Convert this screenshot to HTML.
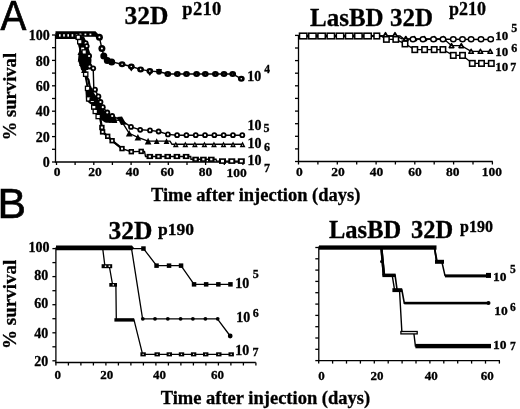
<!DOCTYPE html>
<html><head><meta charset="utf-8"><style>
html,body{margin:0;padding:0;background:#fff;}
body{width:520px;height:409px;overflow:hidden;}
svg{display:block;filter:blur(0.35px);}
text{stroke:#000;stroke-width:0.3px;}
</style></head><body>
<svg width="520" height="409" viewBox="0 0 520 409" stroke="#000" fill="#000" stroke-linecap="butt">
<g stroke="none">
</g>
<g>
<text x="0.0" y="0.0" font-size="43" text-anchor="start" font-family="Liberation Sans" font-weight="normal" transform="translate(0.5,30.4) scale(0.9,1)" style="stroke-width:0.7px">A</text>
<text x="124.6" y="23.6" font-size="25.5" text-anchor="start" font-family="Liberation Serif" font-weight="bold" >32D</text>
<text x="182.3" y="14.8" font-size="18.5" text-anchor="start" font-family="Liberation Serif" font-weight="bold" letter-spacing="0.3">p210</text>
<line x1="55.5" y1="35.0" x2="55.5" y2="162.6" stroke-width="1.3"/>
<line x1="54.9" y1="162.0" x2="244.0" y2="162.0" stroke-width="1.3"/>
<line x1="52.0" y1="35.0" x2="55.5" y2="35.0" stroke-width="1.3"/>
<line x1="52.0" y1="47.7" x2="55.5" y2="47.7" stroke-width="1.3"/>
<line x1="52.0" y1="60.4" x2="55.5" y2="60.4" stroke-width="1.3"/>
<line x1="52.0" y1="73.1" x2="55.5" y2="73.1" stroke-width="1.3"/>
<line x1="52.0" y1="85.8" x2="55.5" y2="85.8" stroke-width="1.3"/>
<line x1="52.0" y1="98.5" x2="55.5" y2="98.5" stroke-width="1.3"/>
<line x1="52.0" y1="111.2" x2="55.5" y2="111.2" stroke-width="1.3"/>
<line x1="52.0" y1="123.9" x2="55.5" y2="123.9" stroke-width="1.3"/>
<line x1="52.0" y1="136.6" x2="55.5" y2="136.6" stroke-width="1.3"/>
<line x1="52.0" y1="149.3" x2="55.5" y2="149.3" stroke-width="1.3"/>
<line x1="52.0" y1="162.0" x2="55.5" y2="162.0" stroke-width="1.3"/>
<line x1="56.5" y1="162.0" x2="56.5" y2="165.0" stroke-width="1.3"/>
<line x1="75.1" y1="162.0" x2="75.1" y2="165.0" stroke-width="1.3"/>
<line x1="93.8" y1="162.0" x2="93.8" y2="165.0" stroke-width="1.3"/>
<line x1="112.4" y1="162.0" x2="112.4" y2="165.0" stroke-width="1.3"/>
<line x1="131.1" y1="162.0" x2="131.1" y2="165.0" stroke-width="1.3"/>
<line x1="149.7" y1="162.0" x2="149.7" y2="165.0" stroke-width="1.3"/>
<line x1="168.3" y1="162.0" x2="168.3" y2="165.0" stroke-width="1.3"/>
<line x1="187.0" y1="162.0" x2="187.0" y2="165.0" stroke-width="1.3"/>
<line x1="205.6" y1="162.0" x2="205.6" y2="165.0" stroke-width="1.3"/>
<line x1="224.3" y1="162.0" x2="224.3" y2="165.0" stroke-width="1.3"/>
<line x1="242.9" y1="162.0" x2="242.9" y2="165.0" stroke-width="1.3"/>
<text x="49.8" y="39.6" font-size="14" text-anchor="end" font-family="Liberation Serif" font-weight="bold" >100</text>
<text x="49.8" y="65.7" font-size="14" text-anchor="end" font-family="Liberation Serif" font-weight="bold" >80</text>
<text x="49.8" y="91.0" font-size="14" text-anchor="end" font-family="Liberation Serif" font-weight="bold" >60</text>
<text x="49.8" y="116.4" font-size="14" text-anchor="end" font-family="Liberation Serif" font-weight="bold" >40</text>
<text x="49.8" y="141.8" font-size="14" text-anchor="end" font-family="Liberation Serif" font-weight="bold" >20</text>
<text x="49.8" y="167.1" font-size="14" text-anchor="end" font-family="Liberation Serif" font-weight="bold" >0</text>
<text x="57.0" y="175.8" font-size="13.5" text-anchor="middle" font-family="Liberation Serif" font-weight="bold" >0</text>
<text x="95.0" y="175.8" font-size="13.5" text-anchor="middle" font-family="Liberation Serif" font-weight="bold" >20</text>
<text x="132.5" y="175.8" font-size="13.5" text-anchor="middle" font-family="Liberation Serif" font-weight="bold" >40</text>
<text x="167.3" y="175.8" font-size="13.5" text-anchor="middle" font-family="Liberation Serif" font-weight="bold" >60</text>
<text x="205.5" y="175.8" font-size="13.5" text-anchor="middle" font-family="Liberation Serif" font-weight="bold" >80</text>
<text x="236.7" y="177.2" font-size="13.5" text-anchor="middle" font-family="Liberation Serif" font-weight="bold" >100</text>
<text x="16.0" y="96.6" font-size="18.6" text-anchor="middle" font-family="Liberation Serif" font-weight="bold" transform="rotate(-90 16 96.6)">% survival</text>
<text x="255.7" y="201.0" font-size="18.5" text-anchor="middle" font-family="Liberation Serif" font-weight="bold" >Time after injection (days)</text>
<text x="247.3" y="80.6" font-size="14" text-anchor="start" font-family="Liberation Serif" font-weight="bold" >10</text>
<text x="264.2" y="73.2" font-size="11.5" text-anchor="start" font-family="Liberation Serif" font-weight="bold" >4</text>
<text x="247.6" y="130.3" font-size="14" text-anchor="start" font-family="Liberation Serif" font-weight="bold" >10</text>
<text x="263.5" y="132.3" font-size="12" text-anchor="start" font-family="Liberation Serif" font-weight="bold" >5</text>
<text x="247.6" y="147.9" font-size="14" text-anchor="start" font-family="Liberation Serif" font-weight="bold" >10</text>
<text x="264.0" y="151.0" font-size="12" text-anchor="start" font-family="Liberation Serif" font-weight="bold" >6</text>
<text x="247.6" y="164.8" font-size="14" text-anchor="start" font-family="Liberation Serif" font-weight="bold" >10</text>
<text x="264.0" y="171.5" font-size="12" text-anchor="start" font-family="Liberation Serif" font-weight="bold" >7</text>
<polyline points="56.5,35.5 76.0,35.5 78.3,37.3 79.8,41.7 82.7,49.1 84.2,52.0 85.9,74.4 87.7,88.5 88.7,98.9 92.3,100.4 93.8,107.0 95.3,111.4 98.2,116.5 100.0,117.0 101.9,127.5 102.6,131.9 107.7,136.3 112.1,140.7 122.0,148.6 131.3,151.7 141.2,151.4 144.5,151.4 145.5,156.5 190.7,156.5 191.0,159.3 216.0,159.3 216.5,161.1 242.5,161.1" fill="none" stroke-width="1.4"/>
<polyline points="56.5,35.5 77.0,35.5 80.0,50.0 80.5,58.6 84.0,70.0 87.0,85.0 90.0,95.0 95.0,103.0 100.0,110.0 105.0,116.0 108.5,119.5 115.0,120.0 120.9,120.2 129.2,133.3 137.9,137.3 148.1,141.1 170.0,141.1 172.0,144.3 242.6,144.3" fill="none" stroke-width="1.4"/>
<polyline points="56.5,35.5 80.0,35.5 85.7,43.2 86.7,46.1 89.1,56.0 89.6,66.5 93.2,68.3 93.8,88.0 95.0,89.7 98.4,96.4 102.8,107.2 107.3,112.5 112.2,116.0 120.9,120.2 131.0,126.9 140.2,129.8 150.0,130.4 158.6,131.5 167.9,134.4 177.1,135.2 241.6,135.2" fill="none" stroke-width="1.4"/>
<polyline points="56.5,35.5 95.0,35.5 99.4,37.3 101.9,48.6 103.8,56.0 107.3,60.4 111.7,61.9 122.1,64.2 131.3,66.5 140.6,69.4 149.8,71.1 159.0,71.7 168.2,74.0 232.7,74.0 241.3,78.8" fill="none" stroke-width="1.4"/>
<polyline points="98.2,116.5 100.0,117.0 101.9,127.5 102.6,131.9 107.7,136.3 112.1,140.7 122.0,148.6" fill="none" stroke-width="2.2"/>
<polygon points="55.5,31.3 95.5,31.3 99,35 97,36.8 55.5,36.8" fill="#000" stroke="none"/>
<rect x="55.5" y="33" width="22" height="6" fill="#000" stroke="none"/>
<rect x="59.0" y="34.2" width="1.6" height="2.4" fill="#fff" stroke="none"/>
<rect x="63.2" y="34.2" width="1.6" height="2.4" fill="#fff" stroke="none"/>
<rect x="67.4" y="34.2" width="1.6" height="2.4" fill="#fff" stroke="none"/>
<rect x="71.6" y="34.2" width="1.6" height="2.4" fill="#fff" stroke="none"/>
<rect x="75.8" y="34.2" width="1.6" height="2.4" fill="#fff" stroke="none"/>
<rect x="79.5" y="33.6" width="1.8" height="1.6" fill="#fff" stroke="none"/>
<rect x="84.5" y="33.6" width="1.8" height="1.6" fill="#fff" stroke="none"/>
<rect x="89.5" y="33.6" width="1.8" height="1.6" fill="#fff" stroke="none"/>
<polygon points="76,36.5 77,40 78.5,45 79.5,50 78.5,55 78,60 79.5,65 81.5,70 88,70 91,66 91.5,60 90.5,54 88.5,48 86.5,42 84,36.5" fill="#000" stroke="none"/>
<polygon points="86,86 85.5,92 86,100 89,103 92,105 94,111 97,116 100,119 105,122.5 117,122.5 116,118.5 112,116 108,112.5 104,110 101,104 98,99 94,93 91,86" fill="#000" stroke="none"/>
<polyline points="81.5,68.0 85.0,74.0 88.5,80.0 90.0,88.0" fill="none" stroke-width="2.2"/>
<rect x="75.50" y="34.50" width="5.6" height="5.6" fill="#000" stroke="none"/>
<rect x="76.80" y="35.80" width="3.0" height="3.0" fill="#fff" stroke="none"/>
<rect x="77.00" y="38.90" width="5.6" height="5.6" fill="#000" stroke="none"/>
<rect x="78.30" y="40.20" width="3.0" height="3.0" fill="#fff" stroke="none"/>
<rect x="79.90" y="46.30" width="5.6" height="5.6" fill="#000" stroke="none"/>
<rect x="81.20" y="47.60" width="3.0" height="3.0" fill="#fff" stroke="none"/>
<rect x="81.40" y="49.20" width="5.6" height="5.6" fill="#000" stroke="none"/>
<rect x="82.70" y="50.50" width="3.0" height="3.0" fill="#fff" stroke="none"/>
<rect x="82.90" y="71.40" width="5.6" height="5.6" fill="#000" stroke="none"/>
<rect x="84.20" y="72.70" width="3.0" height="3.0" fill="#fff" stroke="none"/>
<rect x="84.80" y="85.60" width="5.6" height="5.6" fill="#000" stroke="none"/>
<rect x="86.10" y="86.90" width="3.0" height="3.0" fill="#fff" stroke="none"/>
<rect x="85.90" y="96.10" width="5.6" height="5.6" fill="#000" stroke="none"/>
<rect x="87.20" y="97.40" width="3.0" height="3.0" fill="#fff" stroke="none"/>
<rect x="89.50" y="97.60" width="5.6" height="5.6" fill="#000" stroke="none"/>
<rect x="90.80" y="98.90" width="3.0" height="3.0" fill="#fff" stroke="none"/>
<rect x="91.00" y="104.20" width="5.6" height="5.6" fill="#000" stroke="none"/>
<rect x="92.30" y="105.50" width="3.0" height="3.0" fill="#fff" stroke="none"/>
<rect x="92.50" y="108.60" width="5.6" height="5.6" fill="#000" stroke="none"/>
<rect x="93.80" y="109.90" width="3.0" height="3.0" fill="#fff" stroke="none"/>
<rect x="95.40" y="113.70" width="5.6" height="5.6" fill="#000" stroke="none"/>
<rect x="96.70" y="115.00" width="3.0" height="3.0" fill="#fff" stroke="none"/>
<rect x="99.20" y="124.80" width="5.4" height="5.4" fill="#000" stroke="none"/>
<rect x="100.90" y="126.50" width="2.0" height="2.0" fill="#fff" stroke="none"/>
<rect x="99.90" y="129.20" width="5.4" height="5.4" fill="#000" stroke="none"/>
<rect x="101.60" y="130.90" width="2.0" height="2.0" fill="#fff" stroke="none"/>
<rect x="105.00" y="133.60" width="5.4" height="5.4" fill="#000" stroke="none"/>
<rect x="106.70" y="135.30" width="2.0" height="2.0" fill="#fff" stroke="none"/>
<rect x="109.40" y="138.00" width="5.4" height="5.4" fill="#000" stroke="none"/>
<rect x="111.10" y="139.70" width="2.0" height="2.0" fill="#fff" stroke="none"/>
<rect x="119.30" y="145.90" width="5.4" height="5.4" fill="#000" stroke="none"/>
<rect x="121.00" y="147.60" width="2.0" height="2.0" fill="#fff" stroke="none"/>
<rect x="128.60" y="149.00" width="5.4" height="5.4" fill="#000" stroke="none"/>
<rect x="130.30" y="150.70" width="2.0" height="2.0" fill="#fff" stroke="none"/>
<rect x="138.50" y="148.70" width="5.4" height="5.4" fill="#000" stroke="none"/>
<rect x="140.20" y="150.40" width="2.0" height="2.0" fill="#fff" stroke="none"/>
<rect x="146.50" y="153.90" width="6.6" height="5.2" fill="#000" stroke="none"/>
<rect x="148.70" y="155.50" width="2.2" height="2.0" fill="#fff" stroke="none"/>
<rect x="155.20" y="153.90" width="6.6" height="5.2" fill="#000" stroke="none"/>
<rect x="157.40" y="155.50" width="2.2" height="2.0" fill="#fff" stroke="none"/>
<rect x="164.40" y="153.90" width="6.6" height="5.2" fill="#000" stroke="none"/>
<rect x="166.60" y="155.50" width="2.2" height="2.0" fill="#fff" stroke="none"/>
<rect x="173.60" y="153.90" width="6.6" height="5.2" fill="#000" stroke="none"/>
<rect x="175.80" y="155.50" width="2.2" height="2.0" fill="#fff" stroke="none"/>
<rect x="182.80" y="153.90" width="6.6" height="5.2" fill="#000" stroke="none"/>
<rect x="185.00" y="155.50" width="2.2" height="2.0" fill="#fff" stroke="none"/>
<rect x="192.30" y="156.70" width="6.6" height="5.2" fill="#000" stroke="none"/>
<rect x="194.50" y="158.30" width="2.2" height="2.0" fill="#fff" stroke="none"/>
<rect x="200.10" y="156.70" width="6.6" height="5.2" fill="#000" stroke="none"/>
<rect x="202.30" y="158.30" width="2.2" height="2.0" fill="#fff" stroke="none"/>
<rect x="208.00" y="156.70" width="6.6" height="5.2" fill="#000" stroke="none"/>
<rect x="210.20" y="158.30" width="2.2" height="2.0" fill="#fff" stroke="none"/>
<rect x="219.00" y="158.30" width="7.0" height="5.6" fill="#000" stroke="none"/>
<rect x="221.00" y="159.90" width="3.0" height="2.4" fill="#fff" stroke="none"/>
<rect x="228.30" y="158.30" width="7.0" height="5.6" fill="#000" stroke="none"/>
<rect x="230.30" y="159.90" width="3.0" height="2.4" fill="#fff" stroke="none"/>
<rect x="237.80" y="158.30" width="7.0" height="5.6" fill="#000" stroke="none"/>
<rect x="239.80" y="159.90" width="3.0" height="2.4" fill="#fff" stroke="none"/>
<polygon points="80.40,49.10 83.30,54.90 77.50,54.90" fill="#000" stroke="none"/>
<polygon points="80.50,55.70 83.40,61.50 77.60,61.50" fill="#000" stroke="none"/>
<polygon points="82.00,60.10 84.90,65.90 79.10,65.90" fill="#000" stroke="none"/>
<polygon points="84.00,67.10 86.90,72.90 81.10,72.90" fill="#000" stroke="none"/>
<polygon points="89.00,89.10 91.90,94.90 86.10,94.90" fill="#000" stroke="none"/>
<polygon points="92.00,95.10 94.90,100.90 89.10,100.90" fill="#000" stroke="none"/>
<polygon points="95.00,100.10 97.90,105.90 92.10,105.90" fill="#000" stroke="none"/>
<polygon points="98.00,104.10 100.90,109.90 95.10,109.90" fill="#000" stroke="none"/>
<polygon points="101.00,108.10 103.90,113.90 98.10,113.90" fill="#000" stroke="none"/>
<polygon points="105.00,113.10 107.90,118.90 102.10,118.90" fill="#000" stroke="none"/>
<polygon points="108.50,116.60 111.40,122.40 105.60,122.40" fill="#000" stroke="none"/>
<polygon points="111.50,116.90 114.40,122.70 108.60,122.70" fill="#000" stroke="none"/>
<polygon points="114.50,117.10 117.40,122.90 111.60,122.90" fill="#000" stroke="none"/>
<polygon points="129.20,130.00 132.50,136.60 125.90,136.60" fill="#000" stroke="none"/>
<polygon points="137.90,134.00 141.20,140.60 134.60,140.60" fill="#000" stroke="none"/>
<polygon points="148.10,137.80 151.40,144.40 144.80,144.40" fill="#000" stroke="none"/>
<polygon points="156.70,138.20 159.60,144.00 153.80,144.00" fill="#000" stroke="none"/>
<polygon points="166.50,138.20 169.40,144.00 163.60,144.00" fill="#000" stroke="none"/>
<polygon points="175.80,141.40 178.70,147.20 172.90,147.20" fill="#000" stroke="none"/>
<polygon points="175.80,144.30 176.50,145.69 175.10,145.69" fill="#fff" stroke="none"/>
<polygon points="185.34,141.40 188.24,147.20 182.44,147.20" fill="#000" stroke="none"/>
<polygon points="185.34,144.30 186.04,145.69 184.64,145.69" fill="#fff" stroke="none"/>
<polygon points="194.88,141.40 197.78,147.20 191.98,147.20" fill="#000" stroke="none"/>
<polygon points="194.88,144.30 195.58,145.69 194.18,145.69" fill="#fff" stroke="none"/>
<polygon points="204.42,141.40 207.32,147.20 201.52,147.20" fill="#000" stroke="none"/>
<polygon points="204.42,144.30 205.12,145.69 203.72,145.69" fill="#fff" stroke="none"/>
<polygon points="213.96,141.40 216.86,147.20 211.06,147.20" fill="#000" stroke="none"/>
<polygon points="213.96,144.30 214.66,145.69 213.26,145.69" fill="#fff" stroke="none"/>
<polygon points="223.50,141.40 226.40,147.20 220.60,147.20" fill="#000" stroke="none"/>
<polygon points="223.50,144.30 224.20,145.69 222.80,145.69" fill="#fff" stroke="none"/>
<polygon points="233.04,141.40 235.94,147.20 230.14,147.20" fill="#000" stroke="none"/>
<polygon points="233.04,144.30 233.74,145.69 232.34,145.69" fill="#fff" stroke="none"/>
<polygon points="242.58,141.40 245.48,147.20 239.68,147.20" fill="#000" stroke="none"/>
<polygon points="242.58,144.30 243.28,145.69 241.88,145.69" fill="#fff" stroke="none"/>
<ellipse cx="85.70" cy="43.20" rx="2.9" ry="2.9" fill="#000" stroke="none"/>
<circle cx="85.70" cy="43.20" r="1.1" fill="#fff" stroke="none"/>
<ellipse cx="86.70" cy="46.10" rx="2.9" ry="2.9" fill="#000" stroke="none"/>
<circle cx="86.70" cy="46.10" r="1.1" fill="#fff" stroke="none"/>
<ellipse cx="89.10" cy="56.00" rx="2.9" ry="2.9" fill="#000" stroke="none"/>
<circle cx="89.10" cy="56.00" r="1.1" fill="#fff" stroke="none"/>
<ellipse cx="89.60" cy="66.50" rx="2.9" ry="2.9" fill="#000" stroke="none"/>
<circle cx="89.60" cy="66.50" r="1.1" fill="#fff" stroke="none"/>
<ellipse cx="93.20" cy="68.30" rx="2.9" ry="2.9" fill="#000" stroke="none"/>
<circle cx="93.20" cy="68.30" r="1.1" fill="#fff" stroke="none"/>
<ellipse cx="95.00" cy="89.70" rx="2.9" ry="2.9" fill="#000" stroke="none"/>
<circle cx="95.00" cy="89.70" r="1.1" fill="#fff" stroke="none"/>
<ellipse cx="98.40" cy="96.40" rx="2.9" ry="2.9" fill="#000" stroke="none"/>
<circle cx="98.40" cy="96.40" r="1.1" fill="#fff" stroke="none"/>
<ellipse cx="100.50" cy="102.00" rx="2.9" ry="2.9" fill="#000" stroke="none"/>
<circle cx="100.50" cy="102.00" r="1.1" fill="#fff" stroke="none"/>
<ellipse cx="102.80" cy="107.20" rx="2.9" ry="2.9" fill="#000" stroke="none"/>
<circle cx="102.80" cy="107.20" r="1.1" fill="#fff" stroke="none"/>
<ellipse cx="107.30" cy="112.50" rx="2.9" ry="2.9" fill="#000" stroke="none"/>
<circle cx="107.30" cy="112.50" r="1.1" fill="#fff" stroke="none"/>
<ellipse cx="112.20" cy="116.00" rx="2.9" ry="2.9" fill="#000" stroke="none"/>
<circle cx="112.20" cy="116.00" r="1.1" fill="#fff" stroke="none"/>
<ellipse cx="131.00" cy="126.90" rx="2.9" ry="2.9" fill="#000" stroke="none"/>
<circle cx="131.00" cy="126.90" r="1.1" fill="#fff" stroke="none"/>
<ellipse cx="140.20" cy="129.80" rx="2.9" ry="2.9" fill="#000" stroke="none"/>
<circle cx="140.20" cy="129.80" r="1.1" fill="#fff" stroke="none"/>
<ellipse cx="150.00" cy="130.40" rx="2.9" ry="2.9" fill="#000" stroke="none"/>
<circle cx="150.00" cy="130.40" r="1.1" fill="#fff" stroke="none"/>
<ellipse cx="158.60" cy="131.50" rx="2.9" ry="2.9" fill="#000" stroke="none"/>
<circle cx="158.60" cy="131.50" r="1.1" fill="#fff" stroke="none"/>
<ellipse cx="167.90" cy="134.40" rx="2.9" ry="2.9" fill="#000" stroke="none"/>
<circle cx="167.90" cy="134.40" r="1.1" fill="#fff" stroke="none"/>
<ellipse cx="177.10" cy="135.20" rx="2.9" ry="2.9" fill="#000" stroke="none"/>
<circle cx="177.10" cy="135.20" r="1.1" fill="#fff" stroke="none"/>
<ellipse cx="186.41" cy="135.20" rx="2.9" ry="2.9" fill="#000" stroke="none"/>
<circle cx="186.41" cy="135.20" r="1.1" fill="#fff" stroke="none"/>
<ellipse cx="195.72" cy="135.20" rx="2.9" ry="2.9" fill="#000" stroke="none"/>
<circle cx="195.72" cy="135.20" r="1.1" fill="#fff" stroke="none"/>
<ellipse cx="205.03" cy="135.20" rx="2.9" ry="2.9" fill="#000" stroke="none"/>
<circle cx="205.03" cy="135.20" r="1.1" fill="#fff" stroke="none"/>
<ellipse cx="214.34" cy="135.20" rx="2.9" ry="2.9" fill="#000" stroke="none"/>
<circle cx="214.34" cy="135.20" r="1.1" fill="#fff" stroke="none"/>
<ellipse cx="223.65" cy="135.20" rx="2.9" ry="2.9" fill="#000" stroke="none"/>
<circle cx="223.65" cy="135.20" r="1.1" fill="#fff" stroke="none"/>
<ellipse cx="232.96" cy="135.20" rx="2.9" ry="2.9" fill="#000" stroke="none"/>
<circle cx="232.96" cy="135.20" r="1.1" fill="#fff" stroke="none"/>
<ellipse cx="242.27" cy="135.20" rx="2.9" ry="2.9" fill="#000" stroke="none"/>
<circle cx="242.27" cy="135.20" r="1.1" fill="#fff" stroke="none"/>
<ellipse cx="99.40" cy="37.30" rx="3.5" ry="3.5" fill="#000" stroke="none"/>
<circle cx="99.40" cy="37.30" r="1.0" fill="#fff" stroke="none"/>
<ellipse cx="101.90" cy="48.60" rx="3.5" ry="3.5" fill="#000" stroke="none"/>
<circle cx="101.90" cy="48.60" r="1.0" fill="#fff" stroke="none"/>
<ellipse cx="103.80" cy="56.00" rx="3.5" ry="3.5" fill="#000" stroke="none"/>
<ellipse cx="107.30" cy="60.40" rx="3.5" ry="3.5" fill="#000" stroke="none"/>
<ellipse cx="111.70" cy="61.90" rx="3.5" ry="3.5" fill="#000" stroke="none"/>
<ellipse cx="122.10" cy="64.20" rx="3.4" ry="3.0" fill="#000" stroke="none"/>
<circle cx="122.10" cy="64.20" r="0.8" fill="#fff" stroke="none"/>
<ellipse cx="131.30" cy="66.50" rx="3.4" ry="3.0" fill="#000" stroke="none"/>
<circle cx="131.30" cy="66.50" r="0.8" fill="#fff" stroke="none"/>
<ellipse cx="140.60" cy="69.40" rx="3.4" ry="3.0" fill="#000" stroke="none"/>
<circle cx="140.60" cy="69.40" r="0.8" fill="#fff" stroke="none"/>
<ellipse cx="149.80" cy="71.10" rx="3.4" ry="3.0" fill="#000" stroke="none"/>
<circle cx="149.80" cy="71.10" r="0.8" fill="#fff" stroke="none"/>
<ellipse cx="167.80" cy="74.00" rx="3.4" ry="3.0" fill="#000" stroke="none"/>
<circle cx="167.80" cy="74.00" r="0.35" fill="#fff" stroke="none"/>
<ellipse cx="177.30" cy="74.00" rx="3.4" ry="3.0" fill="#000" stroke="none"/>
<circle cx="177.30" cy="74.00" r="0.35" fill="#fff" stroke="none"/>
<ellipse cx="186.50" cy="74.00" rx="3.4" ry="3.0" fill="#000" stroke="none"/>
<circle cx="186.50" cy="74.00" r="0.35" fill="#fff" stroke="none"/>
<ellipse cx="196.60" cy="74.00" rx="3.4" ry="3.0" fill="#000" stroke="none"/>
<circle cx="196.60" cy="74.00" r="0.35" fill="#fff" stroke="none"/>
<ellipse cx="205.30" cy="74.00" rx="3.4" ry="3.0" fill="#000" stroke="none"/>
<circle cx="205.30" cy="74.00" r="0.35" fill="#fff" stroke="none"/>
<ellipse cx="215.40" cy="74.00" rx="3.4" ry="3.0" fill="#000" stroke="none"/>
<circle cx="215.40" cy="74.00" r="0.35" fill="#fff" stroke="none"/>
<ellipse cx="224.00" cy="74.00" rx="3.4" ry="3.0" fill="#000" stroke="none"/>
<circle cx="224.00" cy="74.00" r="0.35" fill="#fff" stroke="none"/>
<ellipse cx="232.70" cy="74.00" rx="3.4" ry="3.0" fill="#000" stroke="none"/>
<circle cx="232.70" cy="74.00" r="0.35" fill="#fff" stroke="none"/>
<ellipse cx="241.30" cy="78.80" rx="3.4" ry="3.0" fill="#000" stroke="none"/>
<circle cx="241.30" cy="78.80" r="0.8" fill="#fff" stroke="none"/>
<polygon points="128.5,67.5 134.10000000000002,67.5 131.3,71.5" fill="#000" stroke="none"/>
<polygon points="147.0,72.1 152.60000000000002,72.1 149.8,76.1" fill="#000" stroke="none"/>
<polygon points="117,117 122,116.5 126.5,124.5 121,125" fill="#000" stroke="none"/>
<rect x="106" y="118.5" width="10" height="3.5" fill="#000" stroke="none"/>
<ellipse cx="159.00" cy="71.70" rx="2.9" ry="2.9" fill="#000" stroke="none"/>
<circle cx="159.00" cy="71.70" r="0.55" fill="#fff" stroke="none"/>
<polygon points="156,69 162,69 159,75" fill="#000" stroke="none"/>
<text x="310.0" y="25.8" font-size="25" text-anchor="start" font-family="Liberation Serif" font-weight="bold" >LasBD 32D</text>
<text x="449.0" y="14.7" font-size="18" text-anchor="start" font-family="Liberation Serif" font-weight="bold" >p210</text>
<line x1="298.5" y1="35.0" x2="298.5" y2="162.1" stroke-width="1.3"/>
<line x1="297.9" y1="161.5" x2="492.8" y2="161.5" stroke-width="1.3"/>
<line x1="295.0" y1="35.4" x2="298.5" y2="35.4" stroke-width="1.3"/>
<line x1="295.0" y1="48.0" x2="298.5" y2="48.0" stroke-width="1.3"/>
<line x1="295.0" y1="60.6" x2="298.5" y2="60.6" stroke-width="1.3"/>
<line x1="295.0" y1="73.2" x2="298.5" y2="73.2" stroke-width="1.3"/>
<line x1="295.0" y1="85.8" x2="298.5" y2="85.8" stroke-width="1.3"/>
<line x1="295.0" y1="98.4" x2="298.5" y2="98.4" stroke-width="1.3"/>
<line x1="295.0" y1="111.1" x2="298.5" y2="111.1" stroke-width="1.3"/>
<line x1="295.0" y1="123.7" x2="298.5" y2="123.7" stroke-width="1.3"/>
<line x1="295.0" y1="136.3" x2="298.5" y2="136.3" stroke-width="1.3"/>
<line x1="295.0" y1="148.9" x2="298.5" y2="148.9" stroke-width="1.3"/>
<line x1="295.0" y1="161.5" x2="298.5" y2="161.5" stroke-width="1.3"/>
<line x1="298.5" y1="161.5" x2="298.5" y2="164.5" stroke-width="1.3"/>
<line x1="317.9" y1="161.5" x2="317.9" y2="164.5" stroke-width="1.3"/>
<line x1="337.3" y1="161.5" x2="337.3" y2="164.5" stroke-width="1.3"/>
<line x1="356.7" y1="161.5" x2="356.7" y2="164.5" stroke-width="1.3"/>
<line x1="376.1" y1="161.5" x2="376.1" y2="164.5" stroke-width="1.3"/>
<line x1="395.4" y1="161.5" x2="395.4" y2="164.5" stroke-width="1.3"/>
<line x1="414.8" y1="161.5" x2="414.8" y2="164.5" stroke-width="1.3"/>
<line x1="434.2" y1="161.5" x2="434.2" y2="164.5" stroke-width="1.3"/>
<line x1="453.6" y1="161.5" x2="453.6" y2="164.5" stroke-width="1.3"/>
<line x1="473.0" y1="161.5" x2="473.0" y2="164.5" stroke-width="1.3"/>
<line x1="492.4" y1="161.5" x2="492.4" y2="164.5" stroke-width="1.3"/>
<text x="299.3" y="176.0" font-size="13.5" text-anchor="middle" font-family="Liberation Serif" font-weight="bold" >0</text>
<text x="338.0" y="176.0" font-size="13.5" text-anchor="middle" font-family="Liberation Serif" font-weight="bold" >20</text>
<text x="376.4" y="176.0" font-size="13.5" text-anchor="middle" font-family="Liberation Serif" font-weight="bold" >40</text>
<text x="415.0" y="176.0" font-size="13.5" text-anchor="middle" font-family="Liberation Serif" font-weight="bold" >60</text>
<text x="452.7" y="176.0" font-size="13.5" text-anchor="middle" font-family="Liberation Serif" font-weight="bold" >80</text>
<text x="491.8" y="176.0" font-size="13.5" text-anchor="middle" font-family="Liberation Serif" font-weight="bold" >100</text>
<text x="495.3" y="39.9" font-size="13" text-anchor="start" font-family="Liberation Serif" font-weight="bold" >10</text>
<text x="511.3" y="31.5" font-size="12" text-anchor="start" font-family="Liberation Serif" font-weight="bold" >5</text>
<text x="495.3" y="55.7" font-size="13" text-anchor="start" font-family="Liberation Serif" font-weight="bold" >10</text>
<text x="511.3" y="51.6" font-size="12" text-anchor="start" font-family="Liberation Serif" font-weight="bold" >6</text>
<text x="495.3" y="71.0" font-size="13" text-anchor="start" font-family="Liberation Serif" font-weight="bold" >10</text>
<text x="510.3" y="71.0" font-size="12" text-anchor="start" font-family="Liberation Serif" font-weight="bold" >7</text>
<polyline points="298.5,36.0 381.0,36.0 386.4,39.3 395.8,39.3 405.0,43.9 414.8,49.6 442.9,49.6 453.3,55.4 462.5,55.4 472.3,63.4 491.3,63.4" fill="none" stroke-width="1.3"/>
<polyline points="298.5,36.0 396.0,36.0 402.0,38.8 443.5,38.8 451.5,45.6 461.3,45.6 471.1,51.3 490.2,51.3" fill="none" stroke-width="1.3"/>
<polyline points="298.5,36.0 400.0,36.0 404.0,39.0 490.7,39.5" fill="none" stroke-width="1.3"/>
<rect x="299.50" y="33.20" width="7.4" height="5.6" fill="#fff" stroke="#000" stroke-width="1.55"/>
<rect x="308.70" y="33.20" width="7.4" height="5.6" fill="#fff" stroke="#000" stroke-width="1.55"/>
<rect x="317.90" y="33.20" width="7.4" height="5.6" fill="#fff" stroke="#000" stroke-width="1.55"/>
<rect x="327.10" y="33.20" width="7.4" height="5.6" fill="#fff" stroke="#000" stroke-width="1.55"/>
<rect x="336.30" y="33.20" width="7.4" height="5.6" fill="#fff" stroke="#000" stroke-width="1.55"/>
<rect x="345.50" y="33.20" width="7.4" height="5.6" fill="#fff" stroke="#000" stroke-width="1.55"/>
<rect x="354.70" y="33.20" width="7.4" height="5.6" fill="#fff" stroke="#000" stroke-width="1.55"/>
<rect x="363.90" y="33.20" width="7.4" height="5.6" fill="#fff" stroke="#000" stroke-width="1.55"/>
<rect x="374.00" y="33.20" width="5.6" height="5.6" fill="#fff" stroke="#000" stroke-width="1.55"/>
<rect x="383.70" y="36.50" width="5.4" height="5.6" fill="#fff" stroke="#000" stroke-width="1.55"/>
<rect x="393.10" y="36.50" width="5.4" height="5.6" fill="#fff" stroke="#000" stroke-width="1.55"/>
<rect x="402.30" y="41.10" width="5.4" height="5.6" fill="#fff" stroke="#000" stroke-width="1.55"/>
<rect x="412.10" y="46.80" width="5.4" height="5.6" fill="#fff" stroke="#000" stroke-width="1.55"/>
<rect x="421.90" y="46.80" width="5.4" height="5.6" fill="#fff" stroke="#000" stroke-width="1.55"/>
<rect x="431.50" y="46.80" width="5.4" height="5.6" fill="#fff" stroke="#000" stroke-width="1.55"/>
<rect x="440.20" y="46.80" width="5.4" height="5.6" fill="#fff" stroke="#000" stroke-width="1.55"/>
<rect x="450.60" y="52.60" width="5.4" height="5.6" fill="#fff" stroke="#000" stroke-width="1.55"/>
<rect x="459.80" y="52.60" width="5.4" height="5.6" fill="#fff" stroke="#000" stroke-width="1.55"/>
<rect x="469.60" y="60.60" width="5.4" height="5.6" fill="#fff" stroke="#000" stroke-width="1.55"/>
<rect x="478.80" y="60.60" width="5.4" height="5.6" fill="#fff" stroke="#000" stroke-width="1.55"/>
<rect x="488.60" y="60.60" width="5.4" height="5.6" fill="#fff" stroke="#000" stroke-width="1.55"/>
<polygon points="385.50,32.70 387.70,36.50 383.30,36.50" fill="#fff" stroke="#000" stroke-width="1.6" stroke-linejoin="round"/>
<polygon points="395.00,32.70 397.20,36.50 392.80,36.50" fill="#fff" stroke="#000" stroke-width="1.6" stroke-linejoin="round"/>
<polygon points="405.80,36.50 408.10,40.50 403.50,40.50" fill="#fff" stroke="#000" stroke-width="1.6" stroke-linejoin="round"/>
<polygon points="414.20,36.50 416.50,40.50 411.90,40.50" fill="#fff" stroke="#000" stroke-width="1.6" stroke-linejoin="round"/>
<polygon points="424.20,36.50 426.50,40.50 421.90,40.50" fill="#fff" stroke="#000" stroke-width="1.6" stroke-linejoin="round"/>
<polygon points="434.20,36.50 436.50,40.50 431.90,40.50" fill="#fff" stroke="#000" stroke-width="1.6" stroke-linejoin="round"/>
<polygon points="443.50,36.50 445.80,40.50 441.20,40.50" fill="#fff" stroke="#000" stroke-width="1.6" stroke-linejoin="round"/>
<ellipse cx="413.00" cy="39.30" rx="2.75" ry="2.5" fill="#fff" stroke="#000" stroke-width="1.4"/>
<ellipse cx="423.00" cy="39.30" rx="2.75" ry="2.5" fill="#fff" stroke="#000" stroke-width="1.4"/>
<ellipse cx="433.50" cy="39.30" rx="2.75" ry="2.5" fill="#fff" stroke="#000" stroke-width="1.4"/>
<ellipse cx="443.00" cy="39.30" rx="2.75" ry="2.5" fill="#fff" stroke="#000" stroke-width="1.4"/>
<ellipse cx="453.30" cy="39.30" rx="2.75" ry="2.5" fill="#fff" stroke="#000" stroke-width="1.4"/>
<ellipse cx="462.50" cy="39.30" rx="2.75" ry="2.5" fill="#fff" stroke="#000" stroke-width="1.4"/>
<ellipse cx="471.10" cy="39.30" rx="2.75" ry="2.5" fill="#fff" stroke="#000" stroke-width="1.4"/>
<ellipse cx="481.00" cy="39.30" rx="2.75" ry="2.5" fill="#fff" stroke="#000" stroke-width="1.4"/>
<ellipse cx="490.70" cy="39.30" rx="2.75" ry="2.5" fill="#fff" stroke="#000" stroke-width="1.4"/>
<polygon points="451.50,43.60 453.80,47.60 449.20,47.60" fill="#fff" stroke="#000" stroke-width="1.6" stroke-linejoin="round"/>
<polygon points="461.30,43.60 463.60,47.60 459.00,47.60" fill="#fff" stroke="#000" stroke-width="1.6" stroke-linejoin="round"/>
<polygon points="471.10,49.30 473.40,53.30 468.80,53.30" fill="#fff" stroke="#000" stroke-width="1.6" stroke-linejoin="round"/>
<polygon points="480.40,49.30 482.70,53.30 478.10,53.30" fill="#fff" stroke="#000" stroke-width="1.6" stroke-linejoin="round"/>
<polygon points="490.20,49.30 492.50,53.30 487.90,53.30" fill="#fff" stroke="#000" stroke-width="1.6" stroke-linejoin="round"/>
<text x="-2.6" y="218.2" font-size="42.7" text-anchor="start" font-family="Liberation Sans" font-weight="normal" style="stroke-width:0.6px">B</text>
<text x="108.6" y="239.2" font-size="25.5" text-anchor="start" font-family="Liberation Serif" font-weight="bold" >32D</text>
<text x="158.0" y="234.6" font-size="17.5" text-anchor="start" font-family="Liberation Serif" font-weight="bold" >p190</text>
<line x1="55.9" y1="247.5" x2="55.9" y2="363.1" stroke-width="1.3"/>
<line x1="55.3" y1="362.5" x2="255.8" y2="362.5" stroke-width="1.3"/>
<line x1="52.4" y1="248.6" x2="55.9" y2="248.6" stroke-width="1.3"/>
<line x1="52.4" y1="262.6" x2="55.9" y2="262.6" stroke-width="1.3"/>
<line x1="52.4" y1="276.6" x2="55.9" y2="276.6" stroke-width="1.3"/>
<line x1="52.4" y1="290.7" x2="55.9" y2="290.7" stroke-width="1.3"/>
<line x1="52.4" y1="304.7" x2="55.9" y2="304.7" stroke-width="1.3"/>
<line x1="52.4" y1="318.7" x2="55.9" y2="318.7" stroke-width="1.3"/>
<line x1="52.4" y1="332.8" x2="55.9" y2="332.8" stroke-width="1.3"/>
<line x1="52.4" y1="346.8" x2="55.9" y2="346.8" stroke-width="1.3"/>
<line x1="52.4" y1="360.8" x2="55.9" y2="360.8" stroke-width="1.3"/>
<line x1="55.9" y1="362.5" x2="55.9" y2="365.5" stroke-width="1.3"/>
<line x1="68.4" y1="362.5" x2="68.4" y2="365.5" stroke-width="1.3"/>
<line x1="80.9" y1="362.5" x2="80.9" y2="365.5" stroke-width="1.3"/>
<line x1="93.4" y1="362.5" x2="93.4" y2="365.5" stroke-width="1.3"/>
<line x1="105.9" y1="362.5" x2="105.9" y2="365.5" stroke-width="1.3"/>
<line x1="118.4" y1="362.5" x2="118.4" y2="365.5" stroke-width="1.3"/>
<line x1="130.9" y1="362.5" x2="130.9" y2="365.5" stroke-width="1.3"/>
<line x1="143.4" y1="362.5" x2="143.4" y2="365.5" stroke-width="1.3"/>
<line x1="155.9" y1="362.5" x2="155.9" y2="365.5" stroke-width="1.3"/>
<line x1="168.4" y1="362.5" x2="168.4" y2="365.5" stroke-width="1.3"/>
<line x1="180.9" y1="362.5" x2="180.9" y2="365.5" stroke-width="1.3"/>
<line x1="193.4" y1="362.5" x2="193.4" y2="365.5" stroke-width="1.3"/>
<line x1="205.9" y1="362.5" x2="205.9" y2="365.5" stroke-width="1.3"/>
<line x1="218.4" y1="362.5" x2="218.4" y2="365.5" stroke-width="1.3"/>
<line x1="230.9" y1="362.5" x2="230.9" y2="365.5" stroke-width="1.3"/>
<line x1="243.4" y1="362.5" x2="243.4" y2="365.5" stroke-width="1.3"/>
<line x1="255.9" y1="362.5" x2="255.9" y2="365.5" stroke-width="1.3"/>
<text x="49.4" y="252.2" font-size="14" text-anchor="end" font-family="Liberation Serif" font-weight="bold" >100</text>
<text x="48.2" y="280.2" font-size="14" text-anchor="end" font-family="Liberation Serif" font-weight="bold" >80</text>
<text x="48.2" y="308.3" font-size="14" text-anchor="end" font-family="Liberation Serif" font-weight="bold" >60</text>
<text x="48.2" y="337.5" font-size="14" text-anchor="end" font-family="Liberation Serif" font-weight="bold" >40</text>
<text x="48.2" y="365.7" font-size="14" text-anchor="end" font-family="Liberation Serif" font-weight="bold" >20</text>
<text x="57.7" y="379.3" font-size="13" text-anchor="middle" font-family="Liberation Serif" font-weight="bold" >0</text>
<text x="106.7" y="379.3" font-size="13" text-anchor="middle" font-family="Liberation Serif" font-weight="bold" >20</text>
<text x="159.6" y="379.3" font-size="13" text-anchor="middle" font-family="Liberation Serif" font-weight="bold" >40</text>
<text x="217.4" y="379.3" font-size="13" text-anchor="middle" font-family="Liberation Serif" font-weight="bold" >60</text>
<text x="16.0" y="304.3" font-size="19" text-anchor="middle" font-family="Liberation Serif" font-weight="bold" transform="rotate(-90 16 304.3)">% survival</text>
<text x="265.4" y="404.0" font-size="18.5" text-anchor="middle" font-family="Liberation Serif" font-weight="bold" >Time after injection (days)</text>
<text x="235.2" y="288.3" font-size="14" text-anchor="start" font-family="Liberation Serif" font-weight="bold" >10</text>
<text x="252.7" y="277.8" font-size="12" text-anchor="start" font-family="Liberation Serif" font-weight="bold" >5</text>
<text x="236.3" y="322.0" font-size="14" text-anchor="start" font-family="Liberation Serif" font-weight="bold" >10</text>
<text x="252.7" y="317.3" font-size="12" text-anchor="start" font-family="Liberation Serif" font-weight="bold" >6</text>
<text x="235.2" y="354.5" font-size="14" text-anchor="start" font-family="Liberation Serif" font-weight="bold" >10</text>
<text x="252.5" y="355.7" font-size="12" text-anchor="start" font-family="Liberation Serif" font-weight="bold" >7</text>
<polyline points="56.0,248.3 143.5,248.6 156.6,265.6 181.0,265.6 194.1,284.4 230.4,284.4" fill="none" stroke-width="1.3"/>
<polyline points="56.0,248.3 131.5,248.3 142.6,318.8 217.4,318.8 230.2,336.0" fill="none" stroke-width="1.3"/>
<polyline points="56.0,248.3 102.7,248.3 104.9,266.2 109.3,266.2 112.6,284.8 115.9,286.0 116.3,319.8 134.0,319.8 142.6,354.4 230.8,354.4" fill="none" stroke-width="1.3"/>
<polygon points="56,245.5 132,245.5 134,248 132,250.2 56,250.2" fill="#000" stroke="none"/>
<rect x="141.2" y="246.3" width="4.5" height="4.5" fill="#000" stroke="none"/>
<rect x="154.3" y="263.4" width="4.5" height="4.5" fill="#000" stroke="none"/>
<rect x="166.8" y="263.4" width="4.5" height="4.5" fill="#000" stroke="none"/>
<rect x="178.8" y="263.4" width="4.5" height="4.5" fill="#000" stroke="none"/>
<rect x="191.8" y="282.1" width="4.5" height="4.5" fill="#000" stroke="none"/>
<rect x="203.9" y="282.1" width="4.5" height="4.5" fill="#000" stroke="none"/>
<rect x="216.1" y="282.1" width="4.5" height="4.5" fill="#000" stroke="none"/>
<rect x="228.2" y="282.1" width="4.5" height="4.5" fill="#000" stroke="none"/>
<circle cx="142.8" cy="318.8" r="1.9" fill="#000" stroke="none"/>
<circle cx="155.0" cy="318.8" r="1.9" fill="#000" stroke="none"/>
<circle cx="167.8" cy="318.8" r="1.9" fill="#000" stroke="none"/>
<circle cx="180.6" cy="318.8" r="1.9" fill="#000" stroke="none"/>
<circle cx="192.9" cy="318.8" r="1.9" fill="#000" stroke="none"/>
<circle cx="205.4" cy="318.8" r="1.9" fill="#000" stroke="none"/>
<circle cx="217.7" cy="318.8" r="1.9" fill="#000" stroke="none"/>
<circle cx="230.2" cy="336.0" r="2.4" fill="#000" stroke="none"/>
<rect x="101.6" y="264.2" width="10.6" height="4" fill="#000" stroke="none"/>
<rect x="104.8" y="265.5" width="1.4" height="1.4" fill="#fff" stroke="none"/>
<rect x="108.6" y="265.5" width="1.6" height="1.4" fill="#fff" stroke="none"/>
<rect x="109.3" y="283" width="7.7" height="3.7" fill="#000" stroke="none"/>
<rect x="112.6" y="284.2" width="1.4" height="1.3" fill="#fff" stroke="none"/>
<rect x="114.4" y="318.2" width="19.8" height="3.4" fill="#000" stroke="none"/>
<rect x="140.40" y="352.3" width="5.4" height="4.1" fill="#000" stroke="none"/>
<rect x="142.50" y="353.8" width="1.2" height="1.1" fill="#fff" stroke="none"/>
<rect x="154.50" y="352.3" width="5.4" height="4.1" fill="#000" stroke="none"/>
<rect x="156.60" y="353.8" width="1.2" height="1.1" fill="#fff" stroke="none"/>
<rect x="166.60" y="352.3" width="5.4" height="4.1" fill="#000" stroke="none"/>
<rect x="168.70" y="353.8" width="1.2" height="1.1" fill="#fff" stroke="none"/>
<rect x="178.80" y="352.3" width="5.4" height="4.1" fill="#000" stroke="none"/>
<rect x="180.90" y="353.8" width="1.2" height="1.1" fill="#fff" stroke="none"/>
<rect x="190.90" y="352.3" width="5.4" height="4.1" fill="#000" stroke="none"/>
<rect x="193.00" y="353.8" width="1.2" height="1.1" fill="#fff" stroke="none"/>
<rect x="203.00" y="352.3" width="5.4" height="4.1" fill="#000" stroke="none"/>
<rect x="205.10" y="353.8" width="1.2" height="1.1" fill="#fff" stroke="none"/>
<rect x="216.10" y="352.3" width="5.4" height="4.1" fill="#000" stroke="none"/>
<rect x="218.20" y="353.8" width="1.2" height="1.1" fill="#fff" stroke="none"/>
<rect x="228.50" y="352.3" width="5.4" height="4.1" fill="#000" stroke="none"/>
<rect x="230.60" y="353.8" width="1.2" height="1.1" fill="#fff" stroke="none"/>
<text x="329.0" y="237.5" font-size="24.5" text-anchor="start" font-family="Liberation Serif" font-weight="bold" >LasBD</text>
<text x="411.0" y="237.5" font-size="24.5" text-anchor="start" font-family="Liberation Serif" font-weight="bold" >32D</text>
<text x="460.0" y="232.3" font-size="16" text-anchor="start" font-family="Liberation Serif" font-weight="bold" >p190</text>
<line x1="318.8" y1="246.5" x2="318.8" y2="361.2" stroke-width="1.3"/>
<line x1="318.2" y1="360.6" x2="500.0" y2="360.6" stroke-width="1.3"/>
<line x1="315.3" y1="247.5" x2="318.8" y2="247.5" stroke-width="1.3"/>
<line x1="315.3" y1="258.8" x2="318.8" y2="258.8" stroke-width="1.3"/>
<line x1="315.3" y1="270.1" x2="318.8" y2="270.1" stroke-width="1.3"/>
<line x1="315.3" y1="281.4" x2="318.8" y2="281.4" stroke-width="1.3"/>
<line x1="315.3" y1="292.7" x2="318.8" y2="292.7" stroke-width="1.3"/>
<line x1="315.3" y1="304.1" x2="318.8" y2="304.1" stroke-width="1.3"/>
<line x1="315.3" y1="315.4" x2="318.8" y2="315.4" stroke-width="1.3"/>
<line x1="315.3" y1="326.7" x2="318.8" y2="326.7" stroke-width="1.3"/>
<line x1="315.3" y1="338.0" x2="318.8" y2="338.0" stroke-width="1.3"/>
<line x1="315.3" y1="349.3" x2="318.8" y2="349.3" stroke-width="1.3"/>
<line x1="315.3" y1="360.6" x2="318.8" y2="360.6" stroke-width="1.3"/>
<line x1="318.7" y1="360.6" x2="318.7" y2="363.6" stroke-width="1.3"/>
<line x1="332.6" y1="360.6" x2="332.6" y2="363.6" stroke-width="1.3"/>
<line x1="346.5" y1="360.6" x2="346.5" y2="363.6" stroke-width="1.3"/>
<line x1="360.4" y1="360.6" x2="360.4" y2="363.6" stroke-width="1.3"/>
<line x1="374.3" y1="360.6" x2="374.3" y2="363.6" stroke-width="1.3"/>
<line x1="388.2" y1="360.6" x2="388.2" y2="363.6" stroke-width="1.3"/>
<line x1="402.1" y1="360.6" x2="402.1" y2="363.6" stroke-width="1.3"/>
<line x1="416.0" y1="360.6" x2="416.0" y2="363.6" stroke-width="1.3"/>
<line x1="429.9" y1="360.6" x2="429.9" y2="363.6" stroke-width="1.3"/>
<line x1="443.8" y1="360.6" x2="443.8" y2="363.6" stroke-width="1.3"/>
<line x1="457.7" y1="360.6" x2="457.7" y2="363.6" stroke-width="1.3"/>
<line x1="471.6" y1="360.6" x2="471.6" y2="363.6" stroke-width="1.3"/>
<line x1="485.5" y1="360.6" x2="485.5" y2="363.6" stroke-width="1.3"/>
<line x1="499.4" y1="360.6" x2="499.4" y2="363.6" stroke-width="1.3"/>
<text x="321.5" y="379.8" font-size="13" text-anchor="middle" font-family="Liberation Serif" font-weight="bold" >0</text>
<text x="376.9" y="379.8" font-size="13" text-anchor="middle" font-family="Liberation Serif" font-weight="bold" >20</text>
<text x="431.3" y="379.8" font-size="13" text-anchor="middle" font-family="Liberation Serif" font-weight="bold" >40</text>
<text x="487.2" y="379.8" font-size="13" text-anchor="middle" font-family="Liberation Serif" font-weight="bold" >60</text>
<text x="493.0" y="280.6" font-size="13.5" text-anchor="start" font-family="Liberation Serif" font-weight="bold" >10</text>
<text x="510.0" y="273.0" font-size="11.5" text-anchor="start" font-family="Liberation Serif" font-weight="bold" >5</text>
<text x="494.3" y="315.3" font-size="13.5" text-anchor="start" font-family="Liberation Serif" font-weight="bold" >10</text>
<text x="510.0" y="310.9" font-size="11.5" text-anchor="start" font-family="Liberation Serif" font-weight="bold" >6</text>
<text x="493.0" y="348.6" font-size="13.5" text-anchor="start" font-family="Liberation Serif" font-weight="bold" >10</text>
<text x="510.0" y="349.9" font-size="11.5" text-anchor="start" font-family="Liberation Serif" font-weight="bold" >7</text>
<rect x="319" y="245.4" width="117.5" height="4.3" fill="#000" stroke="none"/>
<polyline points="434.6,248.0 436.5,261.0 441.9,262.0 445.0,275.6 490.8,275.6" fill="none" stroke-width="1.5"/>
<rect x="435" y="259.8" width="9" height="4" fill="#000" stroke="none"/>
<rect x="445" y="274.5" width="46" height="2.9" fill="#000" stroke="none"/>
<rect x="486.0" y="272.9" width="5" height="5" fill="#000" stroke="none"/>
<polyline points="381.9,249.0 384.3,275.3 395.1,275.3 397.1,290.0 401.9,290.0 404.3,303.1 488.5,303.1" fill="none" stroke-width="1.6"/>
<rect x="404.3" y="301.8" width="84.2" height="2.6" fill="#000" stroke="none"/>
<circle cx="488.5" cy="303.0" r="2" fill="#000" stroke="none"/>
<polyline points="381.0,249.0 383.3,275.3 392.2,275.3 394.6,290.0 399.5,290.0 401.9,332.6 413.8,332.6 415.4,346.0 491.0,346.0" fill="none" stroke-width="1.4"/>
<rect x="382.4" y="273.6" width="13.2" height="3.5" fill="#000" stroke="none"/>
<rect x="392.4" y="288.2" width="9.8" height="3.9" fill="#000" stroke="none"/>
<rect x="400.9" y="331.5" width="16.3" height="2.4" fill="#fff" stroke="#000" stroke-width="1.3"/>
<rect x="415.4" y="343.9" width="75.6" height="4.4" fill="#000" stroke="none"/>
<circle cx="381.5" cy="261.5" r="1.5" fill="#000" stroke="none"/>
<polygon points="380.4,249 382.6,249 385.3,275 382.6,275" fill="#000" stroke="none"/>
<polygon points="433.8,249 435.6,249 437.6,260 435.6,260" fill="#000" stroke="none"/>
</g>
</svg>
</body></html>
